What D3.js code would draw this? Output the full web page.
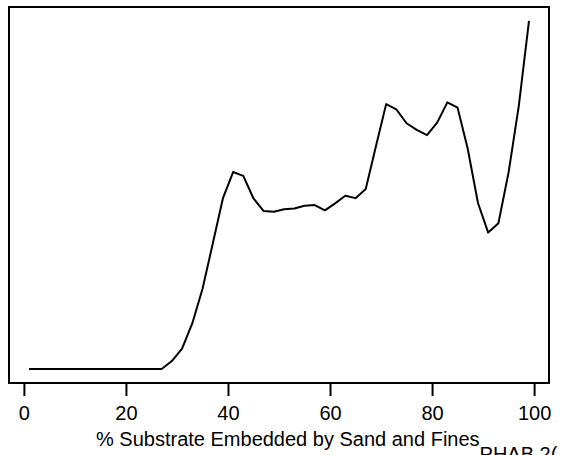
<!DOCTYPE html>
<html>
<head>
<meta charset="utf-8">
<script src="https://cdn.jsdelivr.net/npm/d3@7"></script>
<style>
  body { margin: 0; background: #fff; }
  svg text { font-family: "Liberation Sans", Arial, sans-serif; }
</style>
</head>
<body>
<div id="chart"></div>
<script>
// percent embedded (x) and relative response (y, no y axis shown)
const pctEmbedded = d3.range(1, 100, 2);
const response = [
  0, 0, 0, 0, 0, 0, 0, 0, 0, 0, 0, 0, 0, 0,
  0.023, 0.059, 0.131, 0.230, 0.359, 0.490, 0.566, 0.555, 0.490, 0.454,
  0.452, 0.459, 0.461, 0.469, 0.471, 0.456, 0.476, 0.498, 0.491, 0.517,
  0.640, 0.761, 0.746, 0.706, 0.687, 0.672, 0.708, 0.766, 0.751, 0.632,
  0.477, 0.392, 0.419, 0.565, 0.756, 1.000
];
const xTicks = [0, 20, 40, 60, 80, 100];
const xLabel = "% Substrate Embedded by Sand and Fines";
const xSubLabel = "PHAB 2(";

const width = 562, height = 455;
const frame = { left: 9, right: 549, top: 7, bottom: 383 };

const svg = d3.select("#chart").append("svg")
  .attr("width", width)
  .attr("height", height);

// R style 4% padding around the data range
const xPad = (d3.max(pctEmbedded) - d3.min(pctEmbedded)) * 0.04;
const yPad = (d3.max(response) - d3.min(response)) * 0.04;

const x = d3.scaleLinear()
  .domain([d3.min(pctEmbedded) - xPad, d3.max(pctEmbedded) + xPad])
  .range([frame.left, frame.right]);
const y = d3.scaleLinear()
  .domain([d3.min(response) - yPad, d3.max(response) + yPad])
  .range([frame.bottom, frame.top]);

const line = d3.line()
  .x((d, i) => x(pctEmbedded[i]))
  .y(d => y(d));

svg.append("path")
  .datum(response)
  .attr("d", line)
  .attr("fill", "none")
  .attr("stroke", "#000")
  .attr("stroke-width", 2)
  .attr("stroke-linejoin", "round");

svg.append("rect")
  .attr("x", frame.left)
  .attr("y", frame.top)
  .attr("width", frame.right - frame.left)
  .attr("height", frame.bottom - frame.top)
  .attr("fill", "none")
  .attr("stroke", "#000")
  .attr("stroke-width", 2);

const xAxis = svg.append("g")
  .attr("transform", `translate(0,${frame.bottom})`)
  .call(d3.axisBottom(x).tickValues(xTicks).tickSize(13).tickSizeOuter(0));

xAxis.select(".domain").remove();
xAxis.selectAll(".tick line").attr("stroke-width", 2);
xAxis.selectAll(".tick text")
  .attr("y", 37)
  .attr("dy", 0)
  .attr("font-size", 20)
  .attr("font-family", "Liberation Sans, Arial, sans-serif")
  .attr("fill", "#000");

const lab = svg.append("text")
  .attr("x", 96)
  .attr("y", 446)
  .attr("font-size", 20)
  .attr("fill", "#000");
lab.append("tspan").text(xLabel);
lab.append("tspan").attr("dy", 15).text(xSubLabel);
</script>
</body>
</html>
